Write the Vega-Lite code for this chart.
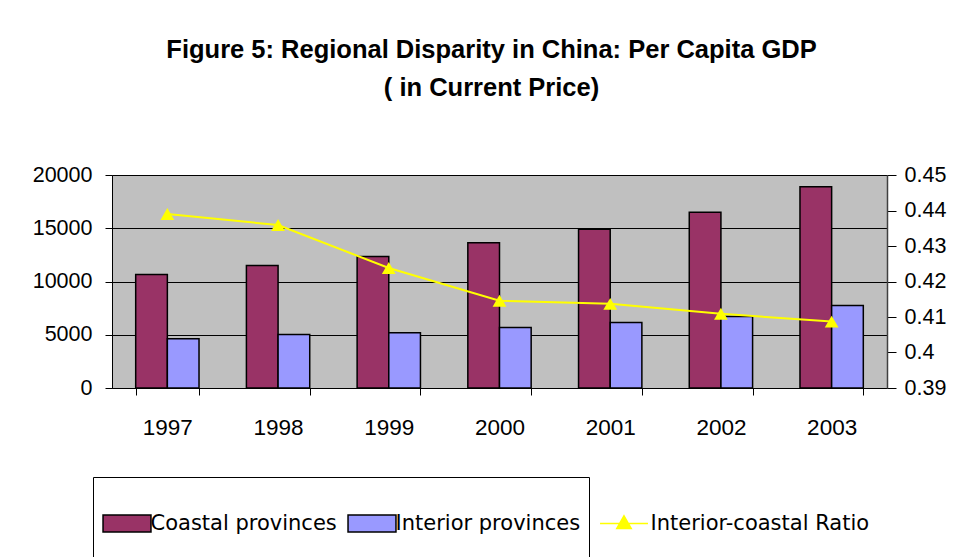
{
  "$schema": "https://vega.github.io/schema/vega-lite/v6.json",
  "autosize": {"type": "none"},
  "padding": {"left": 112, "top": 175, "right": 71, "bottom": 169},
  "width": 775,
  "height": 213,
  "background": "white",
  "title": {
    "text": ["Figure 5: Regional Disparity in China: Per Capita GDP", "( in Current Price)"],
    "font": "Liberation Sans",
    "fontSize": 25.5,
    "fontWeight": "bold",
    "lineHeight": 38,
    "anchor": "middle",
    "dx": -8,
    "offset": 43,
    "baseline": "alphabetic",
    "color": "black"
  },
  "data": {
    "values": [
      {"year": "1997", "Coastal provinces": 10650, "Interior provinces": 4620, "ratio": 0.439},
      {"year": "1998", "Coastal provinces": 11500, "Interior provinces": 5030, "ratio": 0.4359},
      {"year": "1999", "Coastal provinces": 12340, "Interior provinces": 5190, "ratio": 0.4238},
      {"year": "2000", "Coastal provinces": 13650, "Interior provinces": 5680, "ratio": 0.4146},
      {"year": "2001", "Coastal provinces": 14910, "Interior provinces": 6150, "ratio": 0.4137},
      {"year": "2002", "Coastal provinces": 16500, "Interior provinces": 6710, "ratio": 0.4109},
      {"year": "2003", "Coastal provinces": 18900, "Interior provinces": 7750, "ratio": 0.4087}
    ]
  },
  "encoding": {
    "x": {
      "field": "year",
      "type": "nominal",
      "scale": {"paddingInner": 0.428, "paddingOuter": 0.214},
      "axis": {
        "title": null,
        "labelAngle": 0,
        "labelFont": "Liberation Sans",
        "labelFontSize": 22.5,
        "labelColor": "black",
        "labelPadding": 21,
        "tickBand": "extent",
        "tickColor": "black",
        "tickSize": 7,
        "domainColor": "black",
        "grid": false
      }
    }
  },
  "layer": [
    {
      "transform": [{"fold": ["Coastal provinces", "Interior provinces"], "as": ["series", "value"]}],
      "mark": {"type": "bar", "stroke": "black", "strokeWidth": 1.5},
      "encoding": {
        "xOffset": {"field": "series", "type": "nominal", "scale": {"paddingInner": 0, "paddingOuter": 0}},
        "y": {
          "field": "value",
          "type": "quantitative",
          "scale": {"domain": [0, 20000], "nice": false},
          "axis": {
            "title": null,
            "values": [0, 5000, 10000, 15000, 20000],
            "format": "d",
            "labelFont": "Liberation Sans",
            "labelFontSize": 21.5,
            "labelColor": "black",
            "labelPadding": 13,
            "tickSize": 7,
            "tickColor": "black",
            "domainColor": "black",
            "grid": true,
            "gridColor": "black"
          }
        },
        "color": {
          "field": "series",
          "type": "nominal",
          "scale": {
            "domain": ["Coastal provinces", "Interior provinces"],
            "range": ["#993366", "#9999FF"]
          },
          "legend": {
            "title": "\u2003\u2003\u2003",
            "titleFont": "DejaVu Sans",
            "titleFontSize": 14,
            "titlePadding": 14,
            "orient": "none",
            "legendX": -19,
            "legendY": 302,
            "direction": "horizontal",
            "strokeColor": "black",
            "fillColor": "white",
            "padding": 8,
            "labelFont": "DejaVu Sans",
            "labelFontSize": 21,
            "labelColor": "black",
            "labelLimit": 400,
            "symbolType": "M-2.82,-1H2.82V1H-2.82Z M0,5",
            "symbolSize": 289,
            "symbolOffset": 15.5,
            "labelOffset": 13,
            "columnPadding": 8,
            "symbolStrokeWidth": 1.5
          }
        }
      }
    },
    {
      "mark": {
        "type": "line",
        "strokeWidth": 2,
        "point": {"shape": "triangle-up", "size": 190, "filled": true}
      },
      "encoding": {
        "y": {
          "field": "ratio",
          "type": "quantitative",
          "scale": {"domain": [0.39, 0.45], "nice": false, "zero": false},
          "axis": {
            "title": null,
            "orient": "right",
            "values": [0.39, 0.4, 0.41, 0.42, 0.43, 0.44, 0.45],
            "format": ".2~f",
            "labelFont": "Liberation Sans",
            "labelFontSize": 21.5,
            "labelColor": "black",
            "labelPadding": 8,
            "tickSize": 9,
            "tickColor": "black",
            "domainColor": "#404040",
            "domainWidth": 1.5,
            "grid": false
          }
        },
        "color": {
          "datum": "Interior-coastal Ratio",
          "type": "nominal",
          "scale": {"domain": ["Interior-coastal Ratio"], "range": ["#FFFF00"]},
          "legend": {
            "title": null,
            "orient": "none",
            "legendX": 486,
            "legendY": 338,
            "direction": "horizontal",
            "padding": 0,
            "labelFont": "DejaVu Sans",
            "labelFontSize": 21,
            "labelColor": "black",
            "labelLimit": 400,
            "symbolType": "M-2.82,0H2.82M0,-0.9L0.85,0.6L-0.85,0.6Z",
            "symbolSize": 289,
            "symbolOffset": 15.5,
            "labelOffset": 16,
            "symbolStrokeWidth": 1.5,
            "symbolFillColor": "#FFFF00",
            "symbolStrokeColor": "#FFFF00"
          }
        }
      }
    }
  ],
  "resolve": {"scale": {"y": "independent", "color": "independent"}, "legend": {"color": "independent"}},
  "config": {"view": {"fill": "#C0C0C0", "stroke": "#808080"}}
}
